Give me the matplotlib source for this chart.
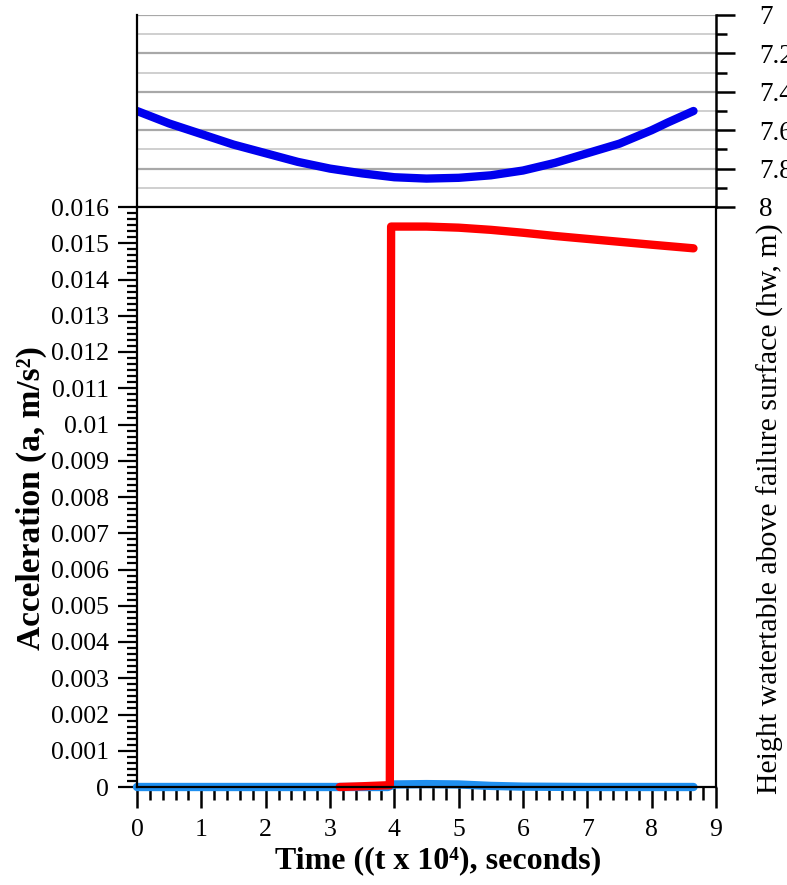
import numpy as np
import matplotlib
matplotlib.use("Agg")
import matplotlib.pyplot as plt
from matplotlib.ticker import FixedLocator, MultipleLocator, AutoMinorLocator, FuncFormatter

plt.rcParams['font.family'] = ['Liberation Serif', 'DejaVu Serif']

# water table height (top panel)
t_hw = [0, 0.5, 1, 1.5, 2, 2.5, 3, 3.5, 4, 4.5, 5, 5.5, 6, 6.5, 7, 7.5, 8, 8.25, 8.65]
hw = [7.50, 7.565, 7.62, 7.675, 7.72, 7.765, 7.80, 7.825, 7.845, 7.852, 7.848,
      7.835, 7.81, 7.77, 7.72, 7.67, 7.60, 7.56, 7.50]

# acceleration, red series
t_red = [3.15, 3.5, 3.93, 3.95, 4.5, 5.0, 5.5, 6.0, 6.5, 7.0, 7.5, 8.0, 8.65]
a_red = [0.0, 0.00002, 0.00005, 0.01546, 0.01546, 0.01543, 0.01537, 0.01529,
         0.01520, 0.01512, 0.01504, 0.01496, 0.01486]

# acceleration, light blue series
t_lb = [0, 1, 2, 3, 3.9, 4.0, 4.5, 5.0, 5.5, 6, 7, 8, 8.65]
a_lb = [0, 0, 0, 0, 0, 0.00007, 0.00008, 0.00007, 0.00003, 0.00001, 0, 0, 0]

acc_ticks = [round(i * 0.001, 3) for i in range(17)]
hw_ticks = [7, 7.2, 7.4, 7.6, 7.8, 8]

W, H = 787, 885
fig = plt.figure(figsize=(W / 100, H / 100), dpi=100)
ax = fig.add_axes([137 / W, 98 / H, 579 / W, 580 / H])
axt = fig.add_axes([137 / W, 678 / H, 579 / W, 192 / H])
ax.set_zorder(2)

# bottom panel
ax.plot(t_lb, a_lb, color='#1e8ff0', lw=6, solid_capstyle='round', clip_on=False)
ax.plot(t_red, a_red, color='#ff0000', lw=6, solid_capstyle='round', clip_on=False)
ax.set_xlim(0, 9)
ax.set_ylim(0, 0.016)
ax.xaxis.set_major_locator(MultipleLocator(1))
ax.xaxis.set_minor_locator(AutoMinorLocator(5))
ax.yaxis.set_major_locator(FixedLocator(acc_ticks))
ax.yaxis.set_minor_locator(AutoMinorLocator(6))
ax.yaxis.set_major_formatter(FuncFormatter(lambda v, p: f'{v:g}'))
ax.tick_params(axis='x', which='major', length=15, width=1.8, direction='out',
               labelsize=18.5, pad=8)
ax.tick_params(axis='x', which='minor', length=9, width=1.8, direction='out')
ax.tick_params(axis='y', which='major', length=14, width=1.6, direction='out',
               labelsize=18.5, pad=6)
ax.tick_params(axis='y', which='minor', length=7, width=1.6, direction='out')
for s in ax.spines.values():
    s.set_linewidth(1.6)

# top panel
axt.plot(t_hw, hw, color='#0000ee', lw=6, solid_capstyle='round')
axt.set_xlim(0, 9)
axt.set_ylim(8, 7)
axt.set_xticks([])
axt.yaxis.tick_right()
axt.yaxis.set_major_locator(FixedLocator(hw_ticks))
axt.yaxis.set_minor_locator(MultipleLocator(0.1))
axt.yaxis.set_major_formatter(FuncFormatter(lambda v, p: f'{v:g}'))
axt.tick_params(axis='y', which='major', length=14, width=1.8, direction='out',
                labelsize=19.5, pad=17)
axt.tick_params(axis='y', which='minor', length=8, width=1.8, direction='out')
axt.grid(True, axis='y', which='major', color='#a8a8a8', lw=1.6)
axt.grid(True, axis='y', which='minor', color='#cccccc', lw=1.3)
axt.spines['top'].set_visible(False)
axt.spines['bottom'].set_visible(False)
axt.spines['left'].set_linewidth(1.6)
axt.spines['right'].set_linewidth(1.8)

fig.text(438 / W, 1 - 861 / H, 'Time ((t x 10\u2074), seconds)', fontsize=23,
         fontweight='bold', ha='center', va='center')
fig.text(31 / W, 1 - 498 / H, 'Acceleration (a, m/s\u00b2)', fontsize=24,
         fontweight='bold', ha='center', va='center', rotation=90)
fig.text(770 / W, 1 - 509 / H, 'Height watertable above failure surface (hw, m)',
         fontsize=21.5, ha='center', va='center', rotation=90)

fig.savefig('out.png', dpi=100)
